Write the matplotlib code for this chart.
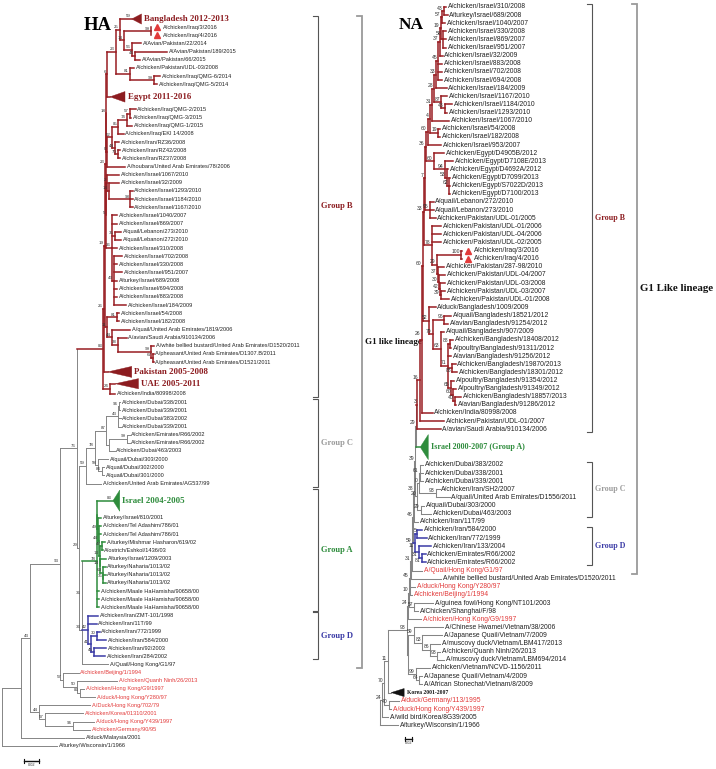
import matplotlib
matplotlib.use('Agg')
import matplotlib.pyplot as plt
from matplotlib.collections import LineCollection
from matplotlib.patches import Polygon
from matplotlib.transforms import offset_copy

# ---------------- HA tree (newick pieces, branch lengths in subst./site) ----------------
HA_TOP = ("((('>Bangladesh 2012-2013':0.016,"
          "(('A/chicken/Iraq/3/2016':0.001,'A/chicken/Iraq/4/2016':0.001)99:0.036,"
          "('A/Avian/Pakistan/22/2014':0.012,('A/Avian/Pakistan/189/2015':0.043,'A/Avian/Pakistan/66/2015':0.007)46:0.004)56:0.011)14:0.005)25:0.005,"
          "('A/chicken/Pakistan/UDL-03/2008':0.005,('A/chicken/Iraq/QMG-6/2014':0.008,'A/chicken/Iraq/QMG-5/2014':0.004)99:0.032)81:0.019)23:0.012,"
          "'>Egypt 2011-2016':0.004)6:0.001")
HA_QMG = ("((((('A/chicken/Iraq/QMG-2/2015':0.007,'A/chicken/Iraq/QMG-3/2015':0.001)57:0.005,'A/chicken/Iraq/QMG-1/2015':0.007)74:0.011,"
          "'A/chicken/Iraq/EKI 14/2008':0.007)85:0.008,"
          "('A/chicken/Iran/RZ36/2008':0.005,('A/chicken/Iran/RZ42/2008':0.003,'A/chicken/Iran/RZ37/2008':0.003)70:0.003)44:0.004)52:0.007,"
          "'A/houbara/United Arab Emirates/78/2006':0.024)0:0.001")
HA_ISRAEL = ("(('A/chicken/Israel/1067/2010':0.016,('A/chicken/Israel/32/2009':0.013,('A/chicken/Israel/1293/2010':0.003,"
             "'A/chicken/Israel/1184/2010':0.003,'A/chicken/Israel/1167/2010':0.003)98:0.028)14:0.003)2:0.001,"
             "('A/chicken/Israel/1040/2007':0.007,'A/chicken/Israel/869/2007':0.007,"
             "('A/quail/Lebanon/273/2010':0.009,'A/quail/Lebanon/272/2010':0.009)35:0.004,'A/chicken/Israel/310/2008':0.007,"
             "('A/chicken/Israel/702/2008':0.011,'A/chicken/Israel/330/2008':0.004,'A/chicken/Israel/951/2007':0.011,"
             "'A/turkey/Israel/689/2008':0.004,'A/chicken/Israel/694/2008':0.004,'A/chicken/Israel/883/2008':0.004,"
             "'A/chicken/Israel/184/2009':0.016)43:0.003)26:0.007)5:0.001")
HA_GULF = ("(('A/chicken/Israel/54/2008':0.003,'A/chicken/Israel/182/2008':0.003)81:0.013,"
           "('A/quail/United Arab Emirates/1819/2006':0.024,('A/avian/Saudi Arabia/910134/2006':0.012,"
           "('A/white bellied bustard/United Arab Emirates/D1520/2011':0.005,"
           "('A/pheasant/United Arab Emirates/D1307.B/2011':0.001,'A/pheasant/United Arab Emirates/D1521/2011':0.001)67:0.003)99:0.044)38:0.007)44:0.007)11:0.003")
HA_GROUP_B = ("(((((" + HA_TOP + "," + HA_QMG + ")18:0.001," + HA_ISRAEL + ")23:0.001," + HA_GULF + ")19:0.001,"
              "'>Pakistan 2005-2008':0.005)26:0.001,('>UAE 2005-2011':0.007,'A/chicken/India/80998/2008':0.007)24:0.009)83:0.035")
HA_GROUP_C = ("((((('A/chicken/Dubai/338/2001':0.001,'A/chicken/Dubai/339/2001':0.001)96:0.001,'A/chicken/Dubai/383/2002':0.003,"
              "'A/chicken/Dubai/339/2001':0.003)43:0.016,"
              "(('A/chicken/Emirates/R66/2002':0.004,'A/chicken/Emirates/R66/2002':0.004)99:0.023,'A/chicken/Dubai/463/2003':0.007):0.004)87:0.015,"
              "('A/quail/Dubai/303/2000':0.013,('A/quail/Dubai/302/2000':0.003,'A/quail/Dubai/301/2000':0.003)84:0.005)58:0.004)78:0.012,"
              "'A/chicken/United Arab Emirates/AG537/99':0.020)59:0.009")
HA_GROUP_A = ("(('>Israel 2004-2005':0.021,('A/turkey/Israel/810/2001':0.004,('A/chicken/Tel Adashim/786/01':0.003,"
              "'A/chicken/Tel Adashim/786/01':0.003,"
              "(('A/turkey/Mishmar Hasharon/619/02':0.004,'A/ostrich/Eshkol/1436/03':0.001)47:0.003,"
              "('A/turkey/Israel/1209/2003':0.008,('A/turkey/Naharia/1013/02':0.004,('A/turkey/Naharia/1013/02':0.003,"
              "'A/turkey/Naharia/1013/02':0.003)35:0.001)63:0.003)14:0.001)13:0.001)44:0.001)49:0.001):0.001,"
              "'A/chicken/Maale HaHamisha/90658/00':0.003,'A/chicken/Maale HaHamisha/90658/00':0.003,"
              "'A/chicken/Maale HaHamisha/90658/00':0.003)78:0.019")
HA_GROUP_D = ("('A/chicken/Iran/ZMT-101/1998':0.013,'A/chicken/Iran/11T/99':0.011,"
              "(('A/chicken/Iran/772/1999':0.004,'A/chicken/Iran/584/2000':0.013)30:0.008,"
              "('A/chicken/Iran/92/2003':0.017,'A/chicken/Iran/284/2002':0.015)45:0.004)41:0.003)42:0.008")
HA_ASIA = ("('A/chicken/Beijing/1/1994':0.021,('A/chicken/Quanh Ninh/26/2013':0.053,"
           "('A/chicken/Hong Kong/G9/1997':0.005,'A/duck/Hong Kong/Y280/97':0.020)86:0.004)50:0.019)57:0.004")
HA_OLD = ("('A/Duck/Hong Kong/702/79':0.068,('A/chicken/Korea/01310/2001':0.051,"
          "('A/duck/Hong Kong/Y439/1997':0.029,'A/chicken/Germany/90/95':0.023)96:0.037)57:0.008)44:0.012")
HA_NEWICK = ("(((((" + HA_GROUP_B + ",(" + HA_GROUP_C + ",((" + HA_GROUP_A + "," + HA_GROUP_D + ")36:0.001,"
             "'A/Quail/Hong Kong/G1/97':0.035)33:0.003)29:0.003)76:0.023," + HA_ASIA + ")93:0.040," + HA_OLD + ")43:0.012,"
             "'A/duck/Malaysia/2001':0.084):0.025,'A/turkey/Wisconsin/1/1966':0.073);")

HA_COLLAPSED_BOOT = {'Bangladesh 2012-2013': '59', 'Israel 2004-2005': '83'}
HA_COLLAPSED_DEPTH = {'Bangladesh 2012-2013': 0.013, 'Egypt 2011-2016': 0.020, 'Pakistan 2005-2008': 0.032,
                      'UAE 2005-2011': 0.031, 'Israel 2004-2005': 0.009}
HA_RED_TAXA = ['A/chicken/Beijing/1/1994', 'A/chicken/Quanh Ninh/26/2013', 'A/chicken/Hong Kong/G9/1997',
               'A/duck/Hong Kong/Y280/97', 'A/Duck/Hong Kong/702/79', 'A/chicken/Korea/01310/2001',
               'A/duck/Hong Kong/Y439/1997', 'A/chicken/Germany/90/95']
HA_GROUPS = [('Group B', 'Bangladesh 2012-2013', 'A/chicken/India/80998/2008'),
             ('Group C', 'A/chicken/Dubai/338/2001', 'A/chicken/United Arab Emirates/AG537/99'),
             ('Group A', 'Israel 2004-2005', 'A/chicken/Maale HaHamisha/90658/00'),
             ('Group D', 'A/chicken/Iran/ZMT-101/1998', 'A/chicken/Iran/284/2002')]
HA_LINEAGE = ('G1 like lineage', 'Bangladesh 2012-2013', 'A/Quail/Hong Kong/G1/97')

# ---------------- NA tree ----------------
NA_ISRAEL = ("((((((((((" "'A/chicken/Israel/310/2008':0.006,'A/turkey/Israel/689/2008':0.011)43:0.006,"
             "'A/chicken/Israel/1040/2007':0.011)57:0.003,"
             "('A/chicken/Israel/330/2008':0.009,'A/chicken/Israel/869/2007':0.009,'A/chicken/Israel/951/2007':0.009)58:0.006)19:0.003,"
             "'A/chicken/Israel/32/2009':0.009)37:0.003,"
             "'A/chicken/Israel/883/2008':0.011,'A/chicken/Israel/702/2008':0.011,'A/chicken/Israel/694/2008':0.011)45:0.006,"
             "'A/chicken/Israel/184/2009':0.029)33:0.006,"
             "('A/chicken/Israel/1167/2010':0.017,('A/chicken/Israel/1184/2010':0.020,'A/chicken/Israel/1293/2010':0.006)43:0.011)87:0.020)28:0.006,"
             "'A/chicken/Israel/1067/2010':0.049)31:0.006,"
             "('A/chicken/Israel/54/2008':0.006,'A/chicken/Israel/182/2008':0.006)19:0.023)4:0.006,"
             "'A/chicken/Israel/953/2007':0.037)60:0.006")
NA_EGYPT = ("('A/chicken/Egypt/D4905B/2012':0.029,('A/chicken/Egypt/D7108E/2013':0.023,('A/chicken/Egypt/D4692A/2012':0.003,"
            "('A/chicken/Egypt/D7099/2013':0.003,'A/chicken/Egypt/S7022D/2013':0.003,'A/chicken/Egypt/D7100/2013':0.003)62:0.006)53:0.006)94:0.031)60:0.023")
NA_LEBANON = ("('A/quail/Lebanon/272/2010':0.011,'A/quail/Lebanon/273/2010':0.011,'A/chicken/Pakistan/UDL-01/2005':0.017)95:0.014")
NA_PAKISTAN = ("('A/chicken/Pakistan/UDL-01/2006':0.026,'A/chicken/Pakistan/UDL-04/2006':0.026,'A/chicken/Pakistan/UDL-02/2005':0.026,"
               "(('A/chicken/Iraq/3/2016':0.003,'A/chicken/Iraq/4/2016':0.003)100:0.069,"
               "('A/chicken/Pakistan/287-98/2010':0.017,('A/chicken/Pakistan/UDL-04/2007':0.017,('A/chicken/Pakistan/UDL-03/2008':0.014,"
               "('A/chicken/Pakistan/UDL-03/2007':0.011,'A/chicken/Pakistan/UDL-01/2008':0.023)39:0.003)42:0.003)30:0.003)37:0.003)29:0.014)78:0.023")
NA_BANGLADESH = ("('A/duck/Bangladesh/1009/2009':0.020,(('A/quail/Bangladesh/18521/2012':0.020,'A/avian/Bangladesh/91254/2012':0.011)96:0.034,"
                 "('A/quail/Bangladesh/907/2009':0.011,(('A/chicken/Bangladesh/18408/2012':0.009,'A/poultry/Bangladesh/91311/2012':0.003)88:0.006,"
                 "'A/avian/Bangladesh/91256/2012':0.009,"
                 "('A/chicken/Bangladesh/19870/2013':0.009,'A/chicken/Bangladesh/18301/2012':0.014)88:0.014,"
                 "('A/poultry/Bangladesh/91354/2012':0.009,('A/poultry/Bangladesh/91349/2012':0.009,"
                 "('A/chicken/Bangladesh/18857/2013':0.017,'A/avian/Bangladesh/91286/2012':0.003)40:0.006)60:0.006)65:0.009)71:0.020)63:0.023)79:0.011)52:0.017")
NA_GROUP_C = ("((('A/chicken/Dubai/383/2002':0.011,'A/chicken/Dubai/338/2001':0.011,'A/chicken/Dubai/339/2001':0.011)61:0.003,"
              "('A/chicken/Iran/SH2/2007':0.011,'A/quail/United Arab Emirates/D1556/2011':0.040)93:0.049)0:0.003,"
              "('A/quail/Dubai/303/2000':0.009,'A/chicken/Dubai/463/2003':0.029)29:0.009)20:0.006")
NA_GROUP_D = ("(('A/chicken/Iran/584/2000':0.014,'A/chicken/Iran/772/1999':0.026)5:0.006,"
              "('A/chicken/Iran/133/2004':0.037,('A/chicken/Emirates/R66/2002':0.011,'A/chicken/Emirates/R66/2002':0.011)81:0.009)31:0.009)11:0.006")
NA_VIETNAM = ("(('A/Chinese Hwamei/Vietnam/38/2006':0.083,('A/Japanese Quail/Vietnam/7/2009':0.057,"
              "('A/muscovy duck/Vietnam/LBM417/2013':0.029,('A/chicken/Quanh Ninh/26/2013':0.009,"
              "'A/muscovy duck/Vietnam/LBM694/2014':0.020)93:0.020)86:0.023)83:0.023)59:0.017,"
              "('A/chicken/Vietnam/NCVD-1156/2011':0.040,('A/Japanese Quail/Vietnam/4/2009':0.009,"
              "'A/African Stonechat/Vietnam/8/2009':0.009)64:0.009)99:0.023):0.003")
NA_NEWICK = ("(((((((((((((((((((((" + NA_ISRAEL + "," + NA_EGYPT + ")36:0.003," + NA_LEBANON + ")7:0.003,"
             + NA_PAKISTAN + ")33:0.003," + NA_BANGLADESH + ")60:0.003,"
             "'A/chicken/India/80998/2008':0.031)26:0.006,"
             "'A/chicken/Pakistan/UDL-01/2007':0.071)16:0.006,"
             "'A/avian/Saudi Arabia/910134/2006':0.066)3:0.003,"
             "'>Israel 2000-2007 (Group A)':0.011)29:0.003," + NA_GROUP_C + ")39:0.003,"
             "'A/chicken/Iran/11T/99':0.011)38:0.003," + NA_GROUP_D + ")46:0.003,"
             "'A/Quail/Hong Kong/G1/97':0.029)59:0.003,"
             "'A/white bellied bustard/United Arab Emirates/D1520/2011':0.086)31:0.003,"
             "'A/duck/Hong Kong/Y280/97':0.014,'A/chicken/Beijing/1/1994':0.006)45:0.003,"
             "('A/guinea fowl/Hong Kong/NT101/2003':0.054,'A/Chicken/Shanghai/F/98':0.011)57:0.014)10:0.003,"
             "'A/chicken/Hong Kong/G9/1997':0.037)24:0.003," + NA_VIETNAM + ")93:0.054,"
             "'>Korea 2001-2007':0.009)11:0.011,"
             "('A/duck/Germany/113/1995':0.029,'A/duck/Hong Kong/Y439/1997':0.006)40:0.014)70:0.006,"
             "'A/wild bird/Korea/8G39/2005':0.017)24:0.006,'A/turkey/Wisconsin/1/1966':0.051);")

NA_COLLAPSED_BOOT = {}
NA_COLLAPSED_DEPTH = {'Israel 2000-2007 (Group A)': 0.023, 'Korea 2001-2007': 0.037}
NA_RED_TAXA = ['A/Quail/Hong Kong/G1/97', 'A/duck/Hong Kong/Y280/97', 'A/chicken/Beijing/1/1994',
               'A/chicken/Hong Kong/G9/1997', 'A/duck/Germany/113/1995', 'A/duck/Hong Kong/Y439/1997']
NA_GROUPS = [('Group B', 'A/chicken/Israel/310/2008', 'A/avian/Saudi Arabia/910134/2006'),
             ('Group C', 'A/chicken/Dubai/383/2002', 'A/chicken/Dubai/463/2003'),
             ('Group D', 'A/chicken/Iran/584/2000', 'A/chicken/Emirates/R66/2002')]
NA_LINEAGE = ('G1 Like lineage', 'A/chicken/Israel/310/2008', 'A/Quail/Hong Kong/G1/97')

MARKED_TAXA = ['A/chicken/Iraq/3/2016', 'A/chicken/Iraq/4/2016']

# ---------------- colours ----------------
MAROON = '#981d22'
MAROON_TXT = '#8c1c20'
GREEN = '#2e8c3c'
BLUE = '#3a3aa6'
RED = '#e23a3a'
GREY = '#858585'
GREY_C = '#9b9b9b'
GROUP_COLORS = {'Group B': MAROON_TXT, 'Group C': GREY_C, 'Group A': GREEN, 'Group D': BLUE}
SANS = ['Liberation Sans', 'DejaVu Sans']
SERIF = ['Liberation Serif', 'DejaVu Serif']


def strip_ws(text):
    out, quoted = [], False
    for ch in text:
        if ch == "'":
            quoted = not quoted
        if quoted or not ch.isspace():
            out.append(ch)
    return ''.join(out)


def parse_newick(text):
    s = strip_ws(text)
    pos = 0

    def read():
        nonlocal pos
        kids = []
        if s[pos] == '(':
            pos += 1
            while True:
                kids.append(read())
                ch = s[pos]
                pos += 1
                if ch == ')':
                    break
        if s[pos] == "'":
            end = s.index("'", pos + 1)
            name = s[pos + 1:end]
            pos = end + 1
        else:
            start = pos
            while s[pos] not in ':,);':
                pos += 1
            name = s[start:pos]
        length = 0.0
        if s[pos] == ':':
            pos += 1
            start = pos
            while s[pos] not in ',);':
                pos += 1
            length = float(s[start:pos])
        return {'name': name, 'len': length, 'kids': kids}

    return read()


def walk(node):
    yield node
    for k in node['kids']:
        yield from walk(k)


def layout(root, slots):
    leaves = []

    def rec(node, x0):
        node['x'] = x0 + node['len']
        if node['kids']:
            for k in node['kids']:
                rec(k, node['x'])
            node['y'] = 0.5 * (node['kids'][0]['y'] + node['kids'][-1]['y'])
            node['lo'] = node['kids'][0]['lo']
            node['hi'] = node['kids'][-1]['hi']
        else:
            node['collapsed'] = node['name'].startswith('>')
            node['name'] = node['name'].lstrip('>')
            h = slots.get(node['name'], 1.0)
            node['y'] = 0.0 if not leaves else leaves[-1]['y'] + 0.5 * (leaves[-1]['h'] + h)
            node['h'] = h
            node['lo'] = node['hi'] = len(leaves)
            leaves.append(node)

    rec(root, 0.0)
    return leaves


def leaf_index(leaves, name, last=False):
    names = [l['name'] for l in leaves]
    if last:
        return len(names) - 1 - names[::-1].index(name)
    return names.index(name)


W, H = 716, 769
fig = plt.figure(figsize=(W / 100, H / 100), dpi=100)
BOOT_TEXTS = []
OTHER_TEXTS = []


def draw_tree(st):
    root = parse_newick(st['newick'])
    leaves = layout(root, {k: v[0] for k, v in st['tri'].items()})
    spans = [(leaf_index(leaves, a), leaf_index(leaves, b, True), c) for a, b, c in st['clades']]
    for node in walk(root):
        node['color'] = GREY
        for i, j, c in spans:
            if i <= node['lo'] and node['hi'] <= j:
                node['color'] = c

    ax = fig.add_axes([0, 0, 1, 1])
    ax.set_axis_off()
    ax.patch.set_alpha(0)
    x0, y0 = st['origin']
    ax.set_xlim(-x0 / st['ppu'], (W - x0) / st['ppu'])
    ax.set_ylim((H - y0) / st['row'], -y0 / st['row'])

    segs, cols = [], []
    for node in walk(root):
        if not node['kids']:
            continue
        segs.append([(node['x'], node['kids'][0]['y']), (node['x'], node['kids'][-1]['y'])])
        cols.append(node['color'])
        for k in node['kids']:
            segs.append([(node['x'], k['y']), (k['x'], k['y'])])
            cols.append(k['color'])
    lws = [st['lw'] if c == GREY else st['lw_col'] for c in cols]
    ax.add_collection(LineCollection(segs, colors=cols, linewidths=lws, capstyle='projecting', zorder=2))

    def boot(label, x, y):
        t = ax.annotate(label, (x, y), xytext=(-0.8, 0.4), textcoords='offset points', ha='right', va='bottom',
                        fontsize=st['boot_fs'], family=SANS, color='#333333', zorder=3)
        BOOT_TEXTS.append(t)

    for node in walk(root):
        if node['kids'] and node['name']:
            boot(node['name'], node['x'], node['y'])

    mark_tr = offset_copy(ax.transData, fig=fig, x=4.4, y=0, units='points')
    for lf in leaves:
        x, y = lf['x'], lf['y']
        if lf['collapsed']:
            depth = st['depth'][lf['name']]
            th = st['tri'][lf['name']][1]
            color = st['tri_color'][lf['name']]
            ax.add_patch(Polygon([(x, y), (x + depth, y - th / 2), (x + depth, y + th / 2)], closed=True,
                                 facecolor=color, edgecolor=color, lw=0.3, zorder=2))
            OTHER_TEXTS.append(ax.annotate(lf['name'], (x + depth, y), xytext=(1.8, 0), textcoords='offset points',
                                           ha='left', va='center', fontsize=st['tri_fs'][lf['name']], family=SERIF,
                                           weight='bold', color=color))
            bs = st['boot'].get(lf['name'])
            if bs:
                boot(bs, x, y)
            continue
        dx = 1.3
        if lf['name'] in MARKED_TAXA:
            ax.plot([x], [y], marker='^', ms=st['mark_ms'], color=RED, mec=RED, transform=mark_tr, zorder=3)
            dx = 8.5
        color = RED if lf['name'] in st['red'] else '#222222'
        OTHER_TEXTS.append(ax.annotate(lf['name'], (x, y), xytext=(dx, 0), textcoords='offset points', ha='left',
                                       va='center', fontsize=st['leaf_fs'], family=SANS, color=color, zorder=3))

    # brackets
    def bracket(first, last, bx, tick, color, lw):
        a = leaves[leaf_index(leaves, first)]
        b = leaves[leaf_index(leaves, last, True)]
        ya = a['y'] - a['h'] / 2 + 0.12
        yb = b['y'] + b['h'] / 2 - 0.12
        ax.plot([bx - tick, bx, bx, bx - tick], [ya, ya, yb, yb], color=color, lw=lw, solid_joinstyle='miter')
        return 0.5 * (ya + yb)

    for label, first, last in st['groups']:
        yc = bracket(first, last, st['bx'], st['tick'], '#555555', 0.8)
        ax.annotate(label, (st['bx'], yc), xytext=(2.5, 0), textcoords='offset points', ha='left', va='center',
                    fontsize=st['group_fs'], family=SERIF, weight='bold', color=GROUP_COLORS[label])
    label, first, last = st['lineage']
    yc = bracket(first, last, st['lx'], st['tick'], '#9a9a9a', 1.3)
    OTHER_TEXTS.append(ax.annotate(label, (st['lx'], yc), xytext=(2.2, 0), textcoords='offset points', ha='left',
                                   va='center', fontsize=st['lineage_fs'], family=SERIF, weight='bold',
                                   color='#111111'))

    # scale bar
    sx = st['scale_x']
    sy = leaves[-1]['y'] + st['scale_dy']
    cap = 0.25
    ax.plot([sx, sx + 0.02], [sy, sy], color='#111111', lw=1.0)
    ax.plot([sx, sx], [sy - cap, sy + cap], color='#111111', lw=0.8)
    ax.plot([sx + 0.02, sx + 0.02], [sy - cap, sy + cap], color='#111111', lw=0.8)
    ax.annotate('0.02', (sx + 0.01, sy), xytext=(0, -1.6), textcoords='offset points', ha='center', va='top',
                fontsize=2.8, family=SANS, color='#333333')
    return ax


HA_STYLE = dict(
    newick=HA_NEWICK, origin=(2, 19), ppu=750, row=8.15,
    tri={'Bangladesh 2012-2013': (1.0, 1.25), 'Egypt 2011-2016': (2.1, 1.3), 'Pakistan 2005-2008': (1.4, 1.35),
         'UAE 2005-2011': (1.5, 1.25), 'Israel 2004-2005': (3.2, 2.6)},
    tri_color={'Bangladesh 2012-2013': MAROON_TXT, 'Egypt 2011-2016': MAROON_TXT, 'Pakistan 2005-2008': MAROON_TXT,
               'UAE 2005-2011': MAROON_TXT, 'Israel 2004-2005': GREEN},
    tri_fs={'Bangladesh 2012-2013': 6.4, 'Egypt 2011-2016': 6.4, 'Pakistan 2005-2008': 6.4,
            'UAE 2005-2011': 6.4, 'Israel 2004-2005': 6.4},
    depth=HA_COLLAPSED_DEPTH, boot=HA_COLLAPSED_BOOT, red=HA_RED_TAXA,
    clades=[('Bangladesh 2012-2013', 'A/chicken/India/80998/2008', MAROON),
            ('Israel 2004-2005', 'A/chicken/Maale HaHamisha/90658/00', GREEN),
            ('A/chicken/Iran/ZMT-101/1998', 'A/chicken/Iran/284/2002', BLUE)],
    groups=HA_GROUPS, lineage=HA_LINEAGE, bx=(318 - 2) / 750, lx=(362 - 2) / 750, tick=5 / 750,
    leaf_fs=4.1, boot_fs=3.2, lw=0.7, lw_col=1.1, mark_ms=4.2, group_fs=6.1, lineage_fs=6.5,
    scale_x=(24 - 2) / 750, scale_dy=1.85,
)

NA_STYLE = dict(
    newick=NA_NEWICK, origin=(380, 7), ppu=350, row=8.12,
    tri={'Israel 2000-2007 (Group A)': (3.4, 3.1), 'Korea 2001-2007': (1.06, 1.0)},
    tri_color={'Israel 2000-2007 (Group A)': GREEN, 'Korea 2001-2007': '#111111'},
    tri_fs={'Israel 2000-2007 (Group A)': 5.8, 'Korea 2001-2007': 4.1},
    depth=NA_COLLAPSED_DEPTH, boot=NA_COLLAPSED_BOOT, red=NA_RED_TAXA,
    clades=[('A/chicken/Israel/310/2008', 'A/avian/Saudi Arabia/910134/2006', MAROON),
            ('Israel 2000-2007 (Group A)', 'Israel 2000-2007 (Group A)', GREEN),
            ('A/chicken/Iran/584/2000', 'A/chicken/Emirates/R66/2002', BLUE)],
    groups=NA_GROUPS, lineage=NA_LINEAGE, bx=(592 - 380) / 350, lx=(637 - 380) / 350, tick=5 / 350,
    leaf_fs=4.9, boot_fs=3.6, lw=0.75, lw_col=1.1, mark_ms=4.6, group_fs=5.8, lineage_fs=7.8,
    scale_x=(405 - 380) / 350, scale_dy=1.7,
)

draw_tree(HA_STYLE)
draw_tree(NA_STYLE)

fig.text(98 / W, 1 - 25 / H, 'HA', ha='center', va='center', fontsize=13.5, family=SERIF, weight='bold')
fig.text(411 / W, 1 - 25 / H, 'NA', ha='center', va='center', fontsize=12.5, family=SERIF, weight='bold')

# nudge crowded bootstrap values so they do not sit on top of each other
renderer = fig.canvas.get_renderer()


def hits(bb, boxes):
    for o in boxes:
        if bb.x0 < o.x1 - 0.3 and bb.x1 > o.x0 + 0.3 and bb.y0 < o.y1 - 0.3 and bb.y1 > o.y0 + 0.3:
            return True
    return False


placed = [t.get_window_extent(renderer) for t in OTHER_TEXTS]
candidates = [(-0.8, 0.4), (-0.8, -3.6), (-3.0, 0.4), (-3.0, -3.6), (-0.8, 2.6), (-5.0, 0.4), (-5.0, -3.6),
              (-7.0, 0.4)]
for t in BOOT_TEXTS:
    for off in candidates:
        t.xyann = off
        bb = t.get_window_extent(renderer)
        if not hits(bb, placed):
            break
    else:
        t.xyann = candidates[0]
        bb = t.get_window_extent(renderer)
    placed.append(bb)

fig.savefig('out.png', dpi=100, facecolor='white')
